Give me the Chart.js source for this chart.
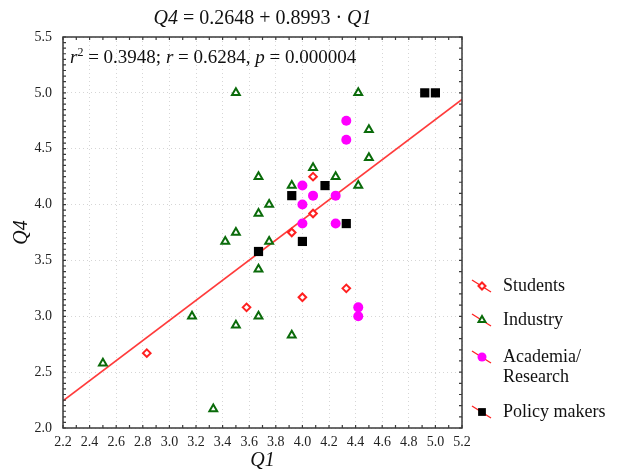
<!DOCTYPE html>
<html>
<head>
<meta charset="utf-8">
<script src="https://cdn.jsdelivr.net/npm/chart.js@4"></script>
<style>
  html, body { margin: 0; padding: 0; background: #fff; }
  #wrap { width: 623px; height: 473px; position: relative; }
</style>
</head>
<body>
<div id="wrap"><canvas id="chart" width="623" height="473"></canvas></div>
<script>
// values
const studentsQ1 = [2.83, 3.58, 3.92, 4.0, 4.08, 4.08, 4.33];
const studentsQ4 = [2.67, 3.08, 3.75, 3.17, 3.92, 4.25, 3.25];

const industryQ1 = [2.5, 3.17, 3.33, 3.5, 3.67, 3.67, 3.42, 3.5, 3.75, 3.92, 3.5, 3.67, 3.67, 3.75, 3.92, 4.08, 4.25, 4.42, 4.42, 4.5, 4.5];
const industryQ4 = [2.58, 3.0, 2.17, 2.92, 3.0, 3.42, 3.67, 3.75, 3.67, 2.83, 5.0, 4.25, 3.92, 4.0, 4.17, 4.33, 4.25, 4.17, 5.0, 4.67, 4.42];

const academiaQ1 = [4.0, 4.0, 4.0, 4.08, 4.25, 4.25, 4.33, 4.33, 4.42, 4.42];
const academiaQ4 = [4.17, 4.0, 3.83, 4.08, 4.08, 3.83, 4.75, 4.58, 3.08, 3.0];

const policyQ1 = [3.67, 3.92, 4.0, 4.17, 4.33, 4.92, 5.0];
const policyQ4 = [3.58, 4.08, 3.67, 4.17, 3.83, 5.0, 5.0];

// fitted line Q4 = 0.2648 + 0.8993 * Q1, end points
const fitQ1 = [2.2, 5.2];
const fitQ4 = [2.243, 4.941];

const xTicks = [2.2, 2.4, 2.6, 2.8, 3.0, 3.2, 3.4, 3.6, 3.8, 4.0, 4.2, 4.4, 4.6, 4.8, 5.0, 5.2];
const yTicks = [2.0, 2.5, 3.0, 3.5, 4.0, 4.5, 5.0, 5.5];

const legendNames = ['Students', 'Industry', 'Academia/\nResearch', 'Policy makers'];

const SERIF = '"Liberation Serif", "DejaVu Serif", serif';
const GREEN = '#0a6b0a';
const RED = '#ff2020';
const MAGENTA = '#ff00ff';

function pts(xs, ys) {
    return xs.map((x, i) => ({ x: x, y: ys[i] }));
}

// draws a row of text pieces with mixed fonts (italic variables etc)
function drawRuns(ctx, runs, x, y, align) {
    let total = 0;
    for (let r of runs) {
        ctx.font = r.f;
        total += ctx.measureText(r.t).width;
    }
    let cx = align === 'center' ? x - total / 2 : x;
    ctx.textAlign = 'left';
    ctx.textBaseline = 'alphabetic';
    for (let r of runs) {
        ctx.font = r.f;
        ctx.fillText(r.t, cx, y + (r.dy || 0));
        cx += ctx.measureText(r.t).width;
    }
}

const decorPlugin = {
    id: 'decor',
    afterDatasetsDraw(chart) {
        const ctx = chart.ctx;
        const a = chart.chartArea;
        const xs = chart.scales.x;
        const ys = chart.scales.y;
        ctx.save();

        // frame
        ctx.strokeStyle = '#3a3a3a';
        ctx.lineWidth = 1.5;
        ctx.strokeRect(a.left, a.top, a.right - a.left, a.bottom - a.top);

        // minor ticks, inward
        ctx.lineWidth = 1.2;
        ctx.beginPath();
        for (let i = 0; i <= 30; i++) {
            const px = xs.getPixelForValue(2.2 + i * 0.1);
            ctx.moveTo(px, a.bottom); ctx.lineTo(px, a.bottom - 3);
            ctx.moveTo(px, a.top); ctx.lineTo(px, a.top + 3);
        }
        for (let i = 0; i <= 70; i++) {
            const py = ys.getPixelForValue(2 + i * 0.05);
            ctx.moveTo(a.left, py); ctx.lineTo(a.left + 3, py);
        }
        for (let i = 0; i <= 35; i++) {
            const py = ys.getPixelForValue(2 + i * 0.1);
            ctx.moveTo(a.right, py); ctx.lineTo(a.right - 3, py);
        }
        ctx.stroke();

        ctx.fillStyle = '#111';
        const it = 'italic 20px ' + SERIF;
        const rg = '20px ' + SERIF;

        // title
        drawRuns(ctx, [{ t: 'Q4', f: it }, { t: ' = 0.2648 + 0.8993 · ', f: rg }, { t: 'Q1', f: it }],
            (a.left + a.right) / 2, 24, 'center');

        // statistics line
        const si = 'italic 19px ' + SERIF;
        const sr = '19px ' + SERIF;
        drawRuns(ctx, [
            { t: 'r', f: si }, { t: '2', f: '12px ' + SERIF, dy: -7 },
            { t: ' = 0.3948; ', f: sr }, { t: 'r', f: si },
            { t: ' = 0.6284, ', f: sr }, { t: 'p', f: si },
            { t: ' = 0.000004', f: sr }
        ], a.left + 7, 63, 'left');

        // axis titles
        drawRuns(ctx, [{ t: 'Q1', f: it }], (a.left + a.right) / 2, 466, 'center');
        ctx.save();
        ctx.translate(27, (a.top + a.bottom) / 2);
        ctx.rotate(-Math.PI / 2);
        drawRuns(ctx, [{ t: 'Q4', f: it }], 0, 0, 'center');
        ctx.restore();

        // legend: short red line with the marker on it, then the name
        const rows = [286, 320, 357, 412];
        for (let i = 0; i < 4; i++) {
            const y = rows[i];
            const d = chart.data.datasets[i];
            ctx.strokeStyle = RED;
            ctx.lineWidth = 1.3;
            ctx.beginPath();
            ctx.moveTo(472, y - 6);
            ctx.lineTo(491, y + 6);
            ctx.stroke();

            ctx.fillStyle = d.backgroundColor;
            ctx.strokeStyle = d.borderColor;
            ctx.lineWidth = d.borderWidth;
            Chart.helpers.drawPoint(ctx, {
                pointStyle: d.pointStyle,
                radius: d.legendRadius,
                borderWidth: d.borderWidth
            }, 482, y);

            ctx.fillStyle = '#111';
            ctx.font = '18px ' + SERIF;
            ctx.textBaseline = 'middle';
            ctx.textAlign = 'left';
            const lines = legendNames[i].split('\n');
            lines.forEach((ln, k) => ctx.fillText(ln, 503, y + k * 20));
        }
        ctx.restore();
    }
};

const datasets = [
    {
        label: 'Students', data: pts(studentsQ1, studentsQ4),
        pointStyle: 'rectRot', pointRadius: 3.8, borderWidth: 2, legendRadius: 3.5,
        borderColor: RED, backgroundColor: '#ffffff', order: 1
    },
    {
        label: 'Industry', data: pts(industryQ1, industryQ4),
        pointStyle: 'triangle', pointRadius: 4.5, borderWidth: 2, legendRadius: 4,
        borderColor: GREEN, backgroundColor: '#ffffff', order: 1
    },
    {
        label: 'Academia/Research', data: pts(academiaQ1, academiaQ4),
        pointStyle: 'circle', pointRadius: 5, borderWidth: 0, legendRadius: 4.5,
        borderColor: MAGENTA, backgroundColor: MAGENTA, order: 1
    },
    {
        label: 'Policy makers', data: pts(policyQ1, policyQ4),
        pointStyle: 'rect', pointRadius: 6.5, borderWidth: 0, legendRadius: 5.5,
        borderColor: '#000000', backgroundColor: '#000000', order: 1
    },
    {
        type: 'line', label: 'fit', data: pts(fitQ1, fitQ4),
        borderColor: '#ff3b3b', borderWidth: 1.6, pointRadius: 0, fill: false, order: 10
    }
];

new Chart(document.getElementById('chart'), {
    type: 'scatter',
    data: { datasets: datasets },
    plugins: [decorPlugin],
    options: {
        responsive: false,
        animation: false,
        events: [],
        layout: { padding: { left: 0, right: 161, top: 37, bottom: 0 } },
        plugins: { legend: { display: false }, tooltip: { enabled: false } },
        scales: {
            x: {
                type: 'linear', min: 2.2, max: 5.2,
                afterBuildTicks: s => { s.ticks = xTicks.map(v => ({ value: v })); },
                afterFit: s => { s.height = 45; },
                grid: { color: '#d6d6d6', lineWidth: 1, drawTicks: false },
                border: { display: false, dash: [1, 3] },
                ticks: {
                    padding: 6, color: '#222',
                    font: { family: SERIF, size: 14 },
                    callback: v => Number(v).toFixed(1)
                }
            },
            y: {
                type: 'linear', min: 2, max: 5.5,
                afterBuildTicks: s => { s.ticks = yTicks.map(v => ({ value: v })); },
                afterFit: s => { s.width = 63; },
                grid: { color: '#d6d6d6', lineWidth: 1, drawTicks: false },
                border: { display: false, dash: [1, 3] },
                ticks: {
                    padding: 11, color: '#222',
                    font: { family: SERIF, size: 14 },
                    callback: v => Number(v).toFixed(1)
                }
            }
        }
    }
});
</script>
</body>
</html>
